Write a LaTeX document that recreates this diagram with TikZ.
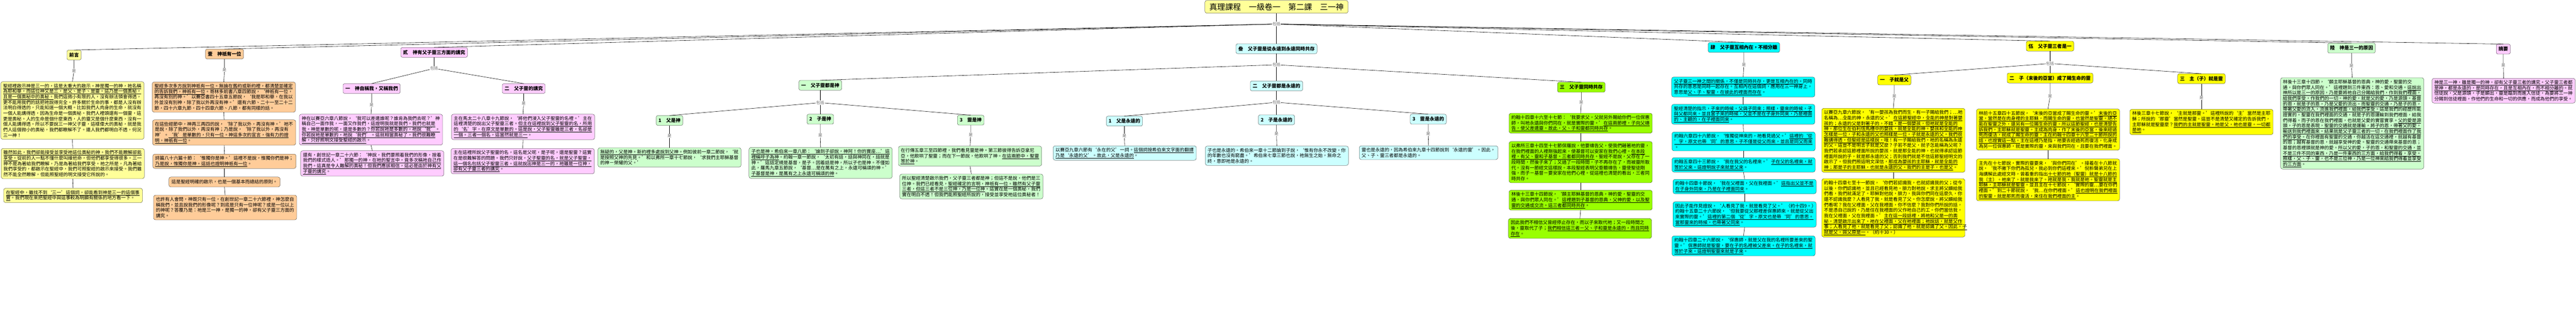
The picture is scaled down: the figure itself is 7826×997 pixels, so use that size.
\documentclass[tikz,border=0pt]{standalone}
\usepackage{fontspec}
\setmainfont{Noto Sans CJK TC}
\usepackage{tikz}
\usepackage{xcolor}
\definecolor{cYellow}{HTML}{FFFF99}
\definecolor{cOrange}{HTML}{FFCC99}
\definecolor{cPink}{HTML}{FFCCFF}
\definecolor{cCyan}{HTML}{CCFFFF}
\definecolor{cAqua}{HTML}{00FFFF}
\definecolor{cLemon}{HTML}{FFFF00}
\definecolor{cGreen}{HTML}{CCFFCC}
\definecolor{cLime}{HTML}{99FF00}
\newcommand{\uln}[1]{\underline{#1}}

\begin{document}
\begin{tikzpicture}[x=1pt,y=-1pt,
	head/.style={draw,rounded corners=5pt,anchor=north,inner xsep=7pt,minimum height=30pt,font=\fontsize{14.5}{17}\selectfont\bfseries},
	para/.style={draw,rounded corners=6pt,anchor=north,align=left,text width=421pt,inner xsep=7pt,inner ysep=6pt,font=\fontsize{14}{16.7}\selectfont},
	tag/.style={fill=white,inner sep=1pt,text=black!60,font=\fontsize{12}{12}\selectfont},
	link/.style={line width=0.9pt}]
	\useasboundingbox (0,0) rectangle (7826,997);

	\node[draw,rounded corners=6pt,anchor=north,fill=cYellow,minimum width=435pt,minimum height=39pt,font=\fontsize{24}{26}\selectfont] (root) at (3878,1) {真理課程　一級卷一　第二課　三一神};
	\node[tag] (inc0) at (3878,73) {包括};

	\node[head,fill=cYellow] (h0) at (225,152) {前言};
	\node[head,fill=cOrange] (h1) at (682,149) {壹　神祇有一位};
	\node[head,fill=cPink] (h2) at (1319,144) {貳　神有父子靈三方面的講究};
	\node[head,fill=cCyan] (h3) at (3878,133) {叁　父子靈是從永遠到永遠同時共存};
	\node[head,fill=cAqua] (h4) at (5298,129) {肆　父子靈互相內在，不相分離};
	\node[head,fill=cLemon] (h5) at (6228,125) {伍　父子靈三者是一};
	\node[head,fill=cGreen] (h6) at (7144,131) {陸　神是三一的原因};
	\node[head,fill=cPink] (h7) at (7605,134) {摘要};

	\node[para,fill=cYellow] (q1) at (220,248) {\uln{聖經裡啟示神是三一的，這是太重大的啟示。神是獨一的神，祂名稱}\\
		\uln{為耶和華，而這位神又是三，是父、是子、是靈。這乃是一個奧秘，}\\
		\uln{且是一個奧秘中的奧秘。}我們這微小有限的人，沒有辦法領會得透，\\
		更不能用我們的話把祂說得完全。許多關於生命的事，都是人沒有辦\\
		法明白得透的，只能知道一個大概。比如我們人肉身的生命，就沒有\\
		一個人能講得透，因為生命是一個奧秘。我們人裡頭還有一個靈，這\\
		更是奧秘。人的生命是個什麼東西，人的靈又是個什麼東西，沒有一\\
		個人能講得透。所以不要說三一神父子靈，這樣偉大的奧秘，就是我\\
		們人這個微小的奧秘，我們都瞭解不了。連人我們都明白不透，何況\\
		三一神！};
	\node[para,fill=cYellow] (q2) at (221,451) {\uln{雖然如此，我們卻能接受並享受祂這位奧秘的神。我們不能瞭解卻能}\\
		\uln{享受。}從前的人一點不懂什麼叫維他命，但他們都享受得很多。三一\\
		神不是為著給我們瞭解，乃是為著給我們享受。祂之所是，凡為著給\\
		我們享受的，都啟示在聖經中，我們可照聖經的啟示來接受。我們雖\\
		然不能全然瞭解，但能照聖經的明文接受它所說的。};
	\node[para,fill=cYellow,text width=408pt] (q3) at (222,572) {\uln{在聖經中，雖找不到‘三一’這個詞，卻能看到神是三一的這個事}\\
		\uln{實}。我們現在來把聖經中與這事較為明顯有關係的地方看一下。};

	\node[para,fill=cOrange] (o1) at (680,249) {\uln{聖經多次多方說到神祇有一位。無論在舊約或新約裡，都清楚並確定}\\
		\uln{的告訴我們，神祇有一位}。哥林多前書八章四節說，‘神祇有一位，\\
		再沒有別的神。’以賽亞書四十五章五節說，‘我是耶和華，在我以\\
		外並沒有別神，除了我以外再沒有神。’還有六節、二十一至二十二\\
		節，四十六章九節，四十四章六節、八節，都有同樣的話。};
	\node[para,fill=cOrange] (o2) at (681,364) {在這些經節中，神再三再四的說，‘除了我以外，再沒有神。’祂不\\
		是說，除了我們以外，再沒有神；乃是說，‘除了我以外，再沒有\\
		神’。\uln{‘我’是單數的，只有一位。神這多次的宣言，強有力的證}\\
		\uln{明，神祇有一位}。};
	\node[para,fill=cOrange] (o3) at (682,468) {詩篇八十六篇十節：‘惟獨你是神。’這裡不是說，惟獨你們是神；\\
		\uln{乃是說，惟獨你是神。這話也證明神祇有一位}。};
	\node[draw,rounded corners=6pt,anchor=north,fill=cOrange,inner xsep=8pt,minimum height=30pt,font=\fontsize{14}{16.7}\selectfont] (o4) at (682,538) {這是聖經明確的啟示，也是一個基本而總結的原則。};
	\node[para,fill=cOrange] (o5) at (684,593) {也許有人會問，神既只有一位，在創世記一章二十六節裡，神怎麼自\\
		稱我們，並且說我們的形像呢？到底是只有一位神呢？或是一位以上\\
		的神呢？答覆乃是：祂是三一神，是獨一的神，卻有父子靈三方面的\\
		講究。};

	\node[tag] (inc2) at (1319,208) {包括};
	\node[head,fill=cPink] (h21) at (1129,254) {一　神自稱我，又稱我們};
	\node[head,fill=cPink] (h22) at (1591,254) {二　父子靈的講究};
	\node[para,fill=cPink] (p11) at (1127,347) {神在以賽亞六章八節說，‘我可以差遣誰呢？誰肯為我們去呢？’神\\
		稱自己一面作我，一面又作我們，\uln{這證明我就是我們，我們也就是}\\
		\uln{我。神是單數的呢，還是多數的？你若說祂是多數的，祂說‘我’。}\\
		\uln{你若說祂是單數的，祂說‘我們’。這就相當奧秘了，我們很難瞭}\\
		\uln{解，只好照明文接受聖經的啟示}。};
	\node[para,fill=cPink] (p12) at (1131,458) {還有，創世記一章二十六節：‘神說，我們要照着我們的形像，按着\\
		我們的樣式造人。’\uln{那獨一的神，在祂的聖言中，竟多次稱祂自己作}\\
		\uln{我們。這真是令人難解的奧秘！但我們應該相信，這必是由於神有父}\\
		\uln{子靈的講究}。};
	\node[para,fill=cPink] (p21) at (1589,347) {主在馬太二十八章十九節說，‘將他們浸入父子聖靈的名裡。’主在\\
		這裡清楚的說出父子聖靈三者。\uln{但主在這裡說到父子聖靈的名，所用}\\
		\uln{的‘名’字，在原文是單數的。這是說，父子聖靈雖是三者，名卻是}\\
		\uln{一個。三者一個名，這當然就是三一}。};
	\node[para,fill=cPink] (p22) at (1588,451) {主在這裡所說父子聖靈的名，這名是父呢，是子呢，還是聖靈？這實\\
		在是很難解答的問題。我們只好說，\uln{父子聖靈的名，就是父子聖靈，}\\
		\uln{這一個名包括父子聖靈三者。這就說出神是三一的，祂雖是一位神，}\\
		\uln{卻有父子靈三者的講究}。};

	\node[tag] (inc3) at (3878,197) {包括};
	\node[head,fill=cGreen] (h31) at (2492,244) {一　父子靈都是神};
	\node[tag] (inc31) at (2492,312) {包括};
	\node[head,fill=cGreen] (h311) at (2034,351) {1　父是神};
	\node[head,fill=cGreen] (h312) at (2492,347) {2　子是神};
	\node[head,fill=cGreen] (h313) at (2949,350) {3　靈是神};
	\node[para,fill=cGreen] (g11) at (2034,449) {\uln{無疑的，父是神。新約裡多處說到父神。}例如彼前一章二節說，‘就\\
		是按照父神的先見。’和以弗所一章十七節說，‘求我們主耶穌基督\\
		的神－榮耀的父。’};
	\node[para,fill=cGreen] (g21) at (2493,448) {\uln{子也是神。希伯來一章八節：‘論到子卻說，神阿！你的寶座…’這}\\
		\uln{裡稱呼子為神}。約翰一章一節說，‘太初有話，話與神同在，話就是\\
		神。’這話定規是基督，是子。因着話是神，所以子也是神。不僅如\\
		此，羅馬九章五節說，‘基督…是在萬有之上，永遠可稱頌的神。’\\
		\uln{子基督是神，是萬有之上永遠可稱頌的神}。};
	\node[para,fill=cGreen] (g31) at (2947,444) {在行傳五章三至四節裡，我們看見靈是神。第三節彼得告訴亞拿尼\\
		亞，他欺哄了聖靈；而在下一節說，他欺哄了神。\uln{在這兩節中，聖靈}\\
		\uln{等於神}。};
	\node[para,fill=cGreen] (g32) at (2951,529) {所以聖經清楚啟示我們，父子靈三者都是神；但這不是說，他們是三\\
		位神。我們已經看見，\uln{聖經確定的言明，神祇有一位。雖然有父子靈}\\
		\uln{三者，但這三者不是三位神，乃是一位神}。這實在是一個奧秘，我們\\
		實在明白不透！但我們能照聖經所說的，接受並享受祂這位奧秘者！};

	\node[head,fill=cCyan] (h32) at (3878,246) {二　父子靈都是永遠的};
	\node[tag] (inc32) at (3878,311) {包括};
	\node[head,fill=cCyan] (h321) at (3416,353) {1　父是永遠的};
	\node[head,fill=cCyan] (h322) at (3878,349) {2　子是永遠的};
	\node[head,fill=cCyan] (h323) at (4339,347) {3　靈是永遠的};
	\node[para,fill=cCyan] (c11) at (3417,443) {以賽亞九章六節有‘永在的父’一詞。\uln{這個詞按希伯來文字面的翻譯}\\
		\uln{乃是‘永遠的父’。故此，父是永遠的}。};
	\node[para,fill=cCyan] (c21) at (3879,444) {子也是永遠的。希伯來一章十二節論到子說，‘惟有你永不改變，你\\
		的年數也沒有窮盡。’希伯來七章三節也說，祂無生之始，無命之\\
		終，意即祂是永遠的。};
	\node[para,fill=cCyan,text width=407pt] (c31) at (4340,443) {靈也是永遠的，因為希伯來九章十四節說到‘永遠的靈’。因此，\\
		父、子、靈三者都是永遠的。};

	\node[head,fill=cLime] (h33) at (4804,250) {三　父子靈同時共存};
	\node[para,fill=cLime] (l1) at (4802,344) {約翰十四章十六至十七節：‘我要求父，父就另外賜給你們一位保惠\\
		師，叫祂永遠與你們同在，就是實際的靈。’\uln{在這兩節裡，子向父禱}\\
		\uln{告，使父差遣靈。故此，父、子和靈都同時共存}。};
	\node[para,fill=cLime] (l2) at (4802,430) {以弗所三章十四至十七節保羅說，他要禱告父，使我們藉著祂的靈，\\
		在我們裡面的人裡剛強起來，使基督可以安家在我們心裡。\uln{在本段}\\
		\uln{裡，有父、靈和子基督。三者都同時共存}。聖經不是說，父存在了一\\
		段時間，然後子來了；又過了一段時間，子不再存在了，而被靈所取\\
		代。沒有一節經文這樣說。本段聖經表明父垂聽禱告，靈使聖徒剛\\
		強，而子－基督－要安家在他們心裡。從這裡也清楚的看出，三者同\\
		時共存。};
	\node[para,fill=cLime] (l3) at (4802,578) {林後十三章十四節說，‘願主耶穌基督的恩典，神的愛，聖靈的交\\
		通，與你們眾人同在。’\uln{這裡題到子基督的恩典，父神的愛，以及聖}\\
		\uln{靈的交通或交流。這三者都同時共存}。};
	\node[para,fill=cLime] (l4) at (4800,664) {因此我們不相信父曾經停止存在，而以子來取代祂；又一段時間之\\
		後，靈取代了子；\uln{我們相信這三者－父、子和靈是永遠的，而且同時}\\
		\uln{存在}。};

	\node[para,fill=cAqua] (k1) at (5296,234) {\uln{父子靈三一神之間的關係，不僅是同時共存，更是互相內在的。}同時\\
		共存的意思是同時一起存在。互相內在這個詞，應用在三一神身上，\\
		意思是\uln{父、子、聖靈，在彼此的裡面而存在}。};
	\node[para,fill=cAqua] (k2) at (5296,317) {聖經清楚的指示，\uln{子來的時候，父與子同來；照樣，靈來的時候，子}\\
		\uln{與父都同來。並且當子來的時候，父並不是在子身外同來，乃是裡面}\\
		\uln{的、主觀的，在子裡面同來}。};
	\node[para,fill=cAqua] (k3) at (5297,401) {約翰六章四十六節說，‘惟獨從神來的，祂看見過父。’\uln{這裡的‘從}\\
		\uln{’字，原文也帶‘同’的意思。子不僅是從父而來，並且是同父而來}\\
		。};
	\node[para,fill=cAqua] (k4) at (5297,479) {約翰五章四十三節說，‘我在我父的名裡來。’\uln{子在父的名裡來，就}\\
		\uln{等於父來。這證明說子來就是父來}。};
	\node[para,fill=cAqua] (k5) at (5300,545) {約翰十四章十節說，‘我在父裡面，父在我裡面。’\uln{這指出父並不是}\\
		\uln{在子身外同來，乃是在子裡面同來}。};
	\node[para,fill=cAqua] (k6) at (5300,613) {因此子能作見證說，‘人看見了我，就是看見了父。’（約十四9。）\\
		約翰十五章二十六節說，‘但我要從父那裡差保惠師來，就是從父出\\
		來實際的靈。’\uln{這裡的第二個‘從’字，原文也是帶‘同’的意思。}\\
		\uln{當那靈來的時候，也帶著父同來}。};
	\node[para,fill=cAqua] (k7) at (5297,717) {約翰十四章二十六節說，‘保惠師，就是父在我的名裡所要差來的聖\\
		靈。’\uln{保惠師就是聖靈，要在子的名裡被父差來。在子的名裡來，就}\\
		\uln{等於子來。這證明聖靈來就是子來}。};

	\node[tag] (inc5) at (6228,193) {包括};
	\node[head,fill=cLemon] (h51) at (5755,228) {一　子就是父};
	\node[head,fill=cLemon] (h52) at (6228,222) {二　子（末後的亞當）成了賜生命的靈};
	\node[head,fill=cLemon] (h53) at (6688,224) {三　主（子）就是靈};
	\node[para,fill=cLemon] (y11) at (5752,329) {以賽亞九章六節說，‘有一嬰孩為我們而生，有一子賜給我們；…祂\\
		名稱為…全能的神，永遠的父。’\uln{在這節聖經中，全能的神是對著嬰}\\
		\uln{孩的；永遠的父是對著子的。不錯，是一個嬰孩，但祂就是全能的}\\
		\uln{神。那位生在伯利恆馬槽中的嬰孩，就是全能的神。嬰孩和全能的神}\\
		\uln{怎樣是一位，子和永遠的父也照樣是一位。子就是永遠的父。我們很}\\
		\uln{難講得透，但聖經是這樣說。}哦！有一子賜給我們，祂的名稱為永遠\\
		的父。這豈不是明言子就是父麼？子若不是父，就子怎能稱為父呢？\\
		我們若承認這節裡面所說的嬰孩，就是那全能的神，也就得承認這節\\
		裡面所說的子，就是那永遠的父；否則我們就是不信這節聖經明文的\\
		啟示了。但我們照這明文深信，\uln{那成為嬰孩的主耶穌，就是全能的}\\
		\uln{神；那是子的主耶穌，也就是永遠的父。我們的主是子，也是父}。};
	\node[para,fill=cLemon] (y12) at (5752,543) {約翰十四章七至十一節說，‘你們若認識我，也就認識我的父；從今\\
		以後，你們認識祂，並且已經看見祂。腓力對祂說，求主將父顯給我\\
		們看，我們就滿足了。耶穌對他說，腓力，我與你們同在這麼久，你\\
		還不認識我麼？人看見了我，就是看見了父。你怎麼說，將父顯給我\\
		們看呢？我在父裡面，父在我裡面，你不信麼？我對你們所說的話，\\
		不是憑自己說的，乃是住在我裡面的父作祂自己的工。你們當信我，\\
		我在父裡面，父在我裡面。’\uln{主在這一段話裡，將祂和父是一的奧}\\
		\uln{秘，清楚啟示出來了。祂在父裡面，父在祂裡面；祂說話，就是父作}\\
		\uln{事；人看見了祂，就是看見了父；認識了祂，就是認識了父。因此，子}\\
		\uln{就是父，與父原是一}。（約十30。）};
	\node[para,fill=cLemon] (y21) at (6222,331) {林前十五章四十五節說，‘末後的亞當成了賜生命的靈。’\uln{末後的亞}\\
		\uln{當，當然是在肉身裡的主耶穌，而賜生命的靈，也當然是聖靈。絕不}\\
		\uln{能在聖靈之外，還另有一位賜生命的靈。所以這節聖經，也是清楚告}\\
		\uln{訴我們，主耶穌就是聖靈。主成為肉身，作了末後的亞當，後來經過}\\
		\uln{死而復活，就成了賜生命的靈。主在約翰十四章十六至二十節所說的}\\
		\uln{話，也證實這一點。}主在這裡乃是指，祂要去經過死而復活，化身成\\
		為另一位保惠師，就是實際的靈，來與我們同在，且要在我們裡面。};
	\node[para,fill=cLemon] (y22) at (6222,483) {主先在十七節說，實際的靈要來，‘與你們同在’。接着在十八節就\\
		說，‘我不撇下你們為孤兒，我必到你們這裡來。’倪柝聲弟兄在上\\
		海講解此處經文時，曾着重的指出\uln{十七節的祂（聖靈）就是十八節的}\\
		\uln{我（主）。祂來了，就是我來了。祂就是我，我就是祂。聖靈就是主}\\
		\uln{耶穌，主耶穌就是聖靈}。並且主在十七節說，‘實際的靈…要在你們\\
		裡面。’到二十節就說，‘我…在你們裡面。’\uln{這也證明在我們裡面}\\
		\uln{的聖靈，就是那死而復活，來住在我們裡面的主}。};
	\node[para,fill=cLemon] (y31) at (6688,332) {林後三章十七節說，‘主就是那靈。’這裡所說的‘主’當然是主耶\\
		穌；所說的‘那靈’當然是聖靈。這豈不是清楚又確定的告訴我們，\\
		主耶穌就是聖靈麼？\uln{我們的主就是聖靈。祂是父，祂也是靈。一切都}\\
		\uln{是祂}。};

	\node[para,fill=cGreen] (gr) at (7146,236) {林後十三章十四節，‘願主耶穌基督的恩典，神的愛，聖靈的交\\
		通，與你們眾人同在。’這裡題到三件東西：恩、愛和交通。\uln{這說出}\\
		\uln{神所以是三一的原因，乃是要將祂自己分賜給我們，作到我們裡面，}\\
		\uln{給我們享受，作我們的一切。神的愛，就是父的愛，乃是源頭。基督}\\
		\uln{的恩，就是子的恩，乃是父愛的流出。而聖靈的交通，乃是子的恩，}\\
		\uln{帶著父愛的流入，流進我們裡面，給我們享受。}這是我們的經歷所能\\
		證實的。聖靈在我們裡面的交通，就是子的恩運輸到我們裡面，給我\\
		們得着。而子的恩在我們裡面，也就是父愛的實嘗實享。\uln{父的愛是源}\\
		\uln{頭，子的恩是表現，聖靈的交通就是運輸，將子的恩，帶著父的愛，}\\
		\uln{輸送到我們裡面來。結果就是父子靈三者的一切，在我們裡面作了我}\\
		\uln{們的享受。}在你裡面有聖靈的交通，你越活在這交通裡，就越有基督\\
		的恩；越有基督的恩，就越享受神的愛。聖靈的交通帶來基督的恩；\\
		基督的恩裡頭就是神的愛。\uln{所以父的愛，子的恩，和聖靈的交通，並}\\
		\uln{不是三件不同的東西，乃是一件東西的三方面，給我們得着，享受。}\\
		\uln{照樣，父、子、靈，也不是三位神，乃是一位神來給我們得着並享受}\\
		\uln{的三方面}。};
	\node[para,fill=cPink] (pk) at (7606,238) {\uln{神是三一神，雖是獨一的神，卻有父子靈三者的講究。父子靈三者都}\\
		\uln{是神，都是永遠的，是同時存在，且是互相內在，而不相分離的}。就\\
		信徒說，父是源頭，子是顯出，靈是臨到而進入信徒，為要將三一神\\
		分賜到信徒裡面，作他們的生命和一切的供應，而成為他們的享受。};

	\node[tag] (is0) at (225,215) {是};
	\node[tag] (is1) at (682,213) {是};
	\node[tag] (is21) at (1129,319) {是};
	\node[tag] (is22) at (1591,314) {是};
	\node[tag] (is311) at (2034,413) {是};
	\node[tag] (is312) at (2492,412) {是};
	\node[tag] (is313) at (2949,409) {是};
	\node[tag] (is321) at (3416,413) {是};
	\node[tag] (is322) at (3878,407) {是};
	\node[tag] (is323) at (4339,407) {是};
	\node[tag] (is33) at (4804,311) {是};
	\node[tag] (is4) at (5298,197) {是};
	\node[tag] (is51) at (5755,292) {是};
	\node[tag] (is52) at (6228,292) {是};
	\node[tag] (is53) at (6688,297) {是};
	\node[tag] (is6) at (7144,200) {是};
	\node[tag] (is7) at (7605,199) {是};

	\draw[link] (root.south) -- (inc0);
	\foreach \i in {0,...,7}
		\draw[link] (inc0) -- (h\i.north);
	\foreach \p/\t/\c in {h2/inc2/h21, h2/inc2/h22, h3/inc3/h31, h3/inc3/h32, h3/inc3/h33, h31/inc31/h311, h31/inc31/h312, h31/inc31/h313, h32/inc32/h321, h32/inc32/h322, h32/inc32/h323, h5/inc5/h51, h5/inc5/h52, h5/inc5/h53}
		\draw[link] (\p.south) -- (\t) -- (\c.north);
	\foreach \p/\t/\c in {h0/is0/q1, h1/is1/o1, h21/is21/p11, h22/is22/p21, h311/is311/g11, h312/is312/g21, h313/is313/g31, h321/is321/c11, h322/is322/c21, h323/is323/c31, h33/is33/l1, h4/is4/k1, h51/is51/y11, h52/is52/y21, h53/is53/y31, h6/is6/gr, h7/is7/pk}
		\draw[link] (\p.south) -- (\t) -- (\c.north);
	\foreach \a/\b in {q1/q2, q2/q3, o1/o2, o2/o3, o3/o4, o4/o5, p11/p12, p21/p22, g31/g32, l1/l2, l2/l3, l3/l4, k1/k2, k2/k3, k3/k4, k4/k5, k5/k6, k6/k7, y11/y12, y21/y22}
		\draw[link] (\a.south) -- (\b.north);
\end{tikzpicture}
\end{document}
